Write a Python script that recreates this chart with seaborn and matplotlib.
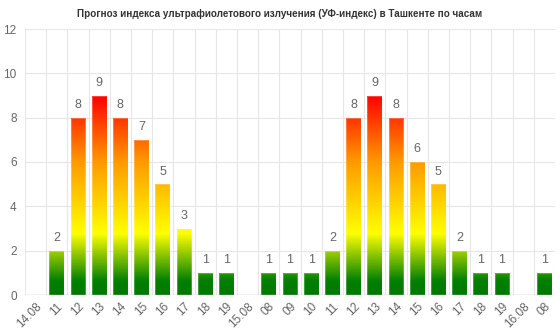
import numpy as np
import pandas as pd
import matplotlib
matplotlib.use("Agg")
import matplotlib.pyplot as plt
import matplotlib.transforms as mtransforms
from matplotlib.colors import LinearSegmentedColormap
import seaborn as sns

title = "Прогноз индекса ультрафиолетового излучения (УФ-индекс) в Ташкенте по часам"
labels = ["14.08", "11", "12", "13", "14", "15", "16", "17", "18", "19",
          "15.08", "08", "09", "10", "11", "12", "13", "14", "15", "16", "17", "18", "19",
          "16.08", "08"]
values = [0, 2, 8, 9, 8, 7, 5, 3, 1, 1,
          0, 1, 1, 1, 2, 8, 9, 8, 6, 5, 2, 1, 1,
          0, 1]

sns.set_theme(style="white")
plt.rcParams['font.family'] = ['Liberation Sans', 'DejaVu Sans']

df = pd.DataFrame({"pos": [str(i) for i in range(len(values))], "uv": values})

fig = plt.figure(figsize=(5.6, 3.32), dpi=100)
ax = fig.add_axes([25/560, 1 - 295/332, 530/560, (295 - 29)/332])

sns.barplot(data=df, x="pos", y="uv", ax=ax, width=0.7, color="green", saturation=1)

ymax = 12
n = len(values)

cmap = LinearSegmentedColormap.from_list(
    "uv", [(0, "#007800"), (0.6 / 12, "#008000"), (2.75 / 12, "#ffff00"),
           (6.0 / 12, "#ff9900"), (9.0 / 12, "#ff0000"), (1, "#ff0000")])
grad = np.linspace(0, ymax, 600).reshape(-1, 1)
for p, v in zip(ax.patches, values):
    p.set_facecolor("none")
    p.set_edgecolor("none")
    if v <= 0:
        continue
    im = ax.imshow(grad, extent=[-0.5, n - 0.5, 0, ymax], origin="lower",
                   aspect="auto", cmap=cmap, vmin=0, vmax=ymax, zorder=2,
                   interpolation="bilinear")
    im.set_clip_path(p)
    p.set_edgecolor((1, 1, 1, 0.25))
    p.set_linewidth(0.8)
    p.set_zorder(2.5)
    ax.text(p.get_x() + p.get_width() / 2, v + 0.3, str(v), ha="center", va="bottom",
            fontsize=9, color="#666666", zorder=3)
ax.set_xlim(-0.5, n - 0.5)
ax.set_ylim(0, ymax)

ax.set_yticks(range(0, 13, 2))
ax.set_yticklabels([str(t) for t in range(0, 13, 2)], fontsize=8.5, color="#666666")
for t in range(2, 13, 2):
    ax.axhline(t, color="#e6e6e6", lw=0.8, zorder=0)
for i in range(n + 1):
    ax.axvline(i - 0.5, color="#e6e6e6", lw=0.8, zorder=0)
ax.axhline(0, color="#c0c0c0", lw=1, zorder=4)

ax.set_xticks(range(n))
ax.set_xticklabels(labels, rotation=45, ha="right", rotation_mode="anchor",
                   fontsize=8.5, color="#666666")
offset = mtransforms.ScaledTranslation(3 / 100, 0, fig.dpi_scale_trans)
for lbl in ax.get_xticklabels():
    lbl.set_transform(lbl.get_transform() + offset)
ax.tick_params(axis="x", length=0, pad=4)
ax.tick_params(axis="y", length=0, pad=6)
for s in ax.spines.values():
    s.set_visible(False)
ax.set_xlabel("")
ax.set_ylabel("")

fig.text(0.5, 1 - 14/332, title, ha="center", va="center", fontsize=7.1,
         fontweight="bold", color="#333333")

fig.savefig("out.png", dpi=100)
